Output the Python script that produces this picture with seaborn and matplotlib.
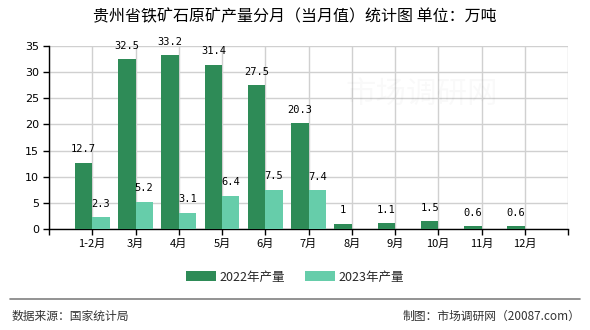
import matplotlib
matplotlib.use("Agg")
import matplotlib.pyplot as plt
import seaborn as sns
import pandas as pd
from matplotlib.lines import Line2D
from matplotlib.patches import Patch

months = ["1-2月", "3月", "4月", "5月", "6月", "7月", "8月", "9月", "10月", "11月", "12月"]
output_2022 = [12.7, 32.5, 33.2, 31.4, 27.5, 20.3, 1, 1.1, 1.5, 0.6, 0.6]
output_2023 = [2.3, 5.2, 3.1, 6.4, 7.5, 7.4]
series_names = ["2022年产量", "2023年产量"]
colors = ["#2e8b57", "#66cdaa"]
y_ticks = [0, 5, 10, 15, 20, 25, 30, 35]

title = "贵州省铁矿石原矿产量分月（当月值）统计图 单位：万吨"
source_text = "数据来源：国家统计局"
credit_text = "制图：市场调研网（20087.com）"

rows = []
for m, v in zip(months, output_2022):
    rows.append({"month": m, "value": v, "series": series_names[0]})
for m, v in zip(months, output_2023):
    rows.append({"month": m, "value": v, "series": series_names[1]})
df = pd.DataFrame(rows)

sns.set_theme(style="white")
plt.rcParams["font.family"] = ["Noto Sans CJK SC", "DejaVu Sans"]

fig = plt.figure(figsize=(5.9, 3.3), dpi=100)
ax = fig.add_axes([49 / 590, 1 - 229 / 330, (568 - 49) / 590, (229 - 46) / 330])

sns.barplot(data=df, x="month", y="value", hue="series", order=months,
            hue_order=series_names, palette=colors, width=0.8, gap=0,
            errorbar=None, saturation=1, legend=False, ax=ax, zorder=3,
            linewidth=0, edgecolor="none")

ax.set_xlim(-1, 11)
ax.set_ylim(0, 35)
ax.set_yticks(y_ticks)
ax.set_xticks(range(-1, 12))
ax.set_xticklabels([""] + months + [""])
ax.set_xlabel("")
ax.set_ylabel("")

ax.grid(True, axis="both", color="#d0d0d0", linewidth=1, zorder=0)
for side in ["top", "right"]:
    ax.spines[side].set_visible(False)
ax.spines["left"].set_color("black")
ax.spines["bottom"].set_color("black")
ax.spines["left"].set_linewidth(1)
ax.spines["bottom"].set_linewidth(1)
ax.tick_params(axis="both", which="both", length=4, width=1, color="black",
               labelsize=8, colors="black", pad=3, direction="out")
ax.tick_params(axis="x", bottom=True)
ax.tick_params(axis="y", left=True)
for lbl in ax.get_yticklabels():
    lbl.set_family(["DejaVu Sans", "Noto Sans CJK SC"])

for container in ax.containers:
    ax.bar_label(container, fmt="{:g}", padding=6, fontsize=7.5,
                 family=["DejaVu Sans Mono", "Noto Sans CJK SC"], color="black", zorder=4)

# faint site watermark
fig.text(0.715, 0.71, "市场调研网", fontsize=22, color="#000000", alpha=0.025,
         ha="center", va="center")

fig.text(0.5, 1 - 17 / 330, title, ha="center", va="center", fontsize=11.5, color="black")

handles = [Patch(facecolor=c, edgecolor="none") for c in colors]
fig.legend(handles, series_names, loc="center", bbox_to_anchor=(0.5, 1 - 277 / 330),
           ncol=2, frameon=False, fontsize=9, handlelength=2.4, handleheight=0.9,
           handletextpad=0.3, columnspacing=1.6)

fig.add_artist(Line2D([10 / 590, 580 / 590], [1 - 299 / 330, 1 - 299 / 330],
                      color="#808080", linewidth=1.2))
fig.text(12 / 590, 1 - 316 / 330, source_text, ha="left", va="center", fontsize=8.5, color="#333333")
fig.text(580 / 590, 1 - 316 / 330, credit_text, ha="right", va="center", fontsize=8.5, color="#333333")

fig.savefig("out.png", dpi=100)
